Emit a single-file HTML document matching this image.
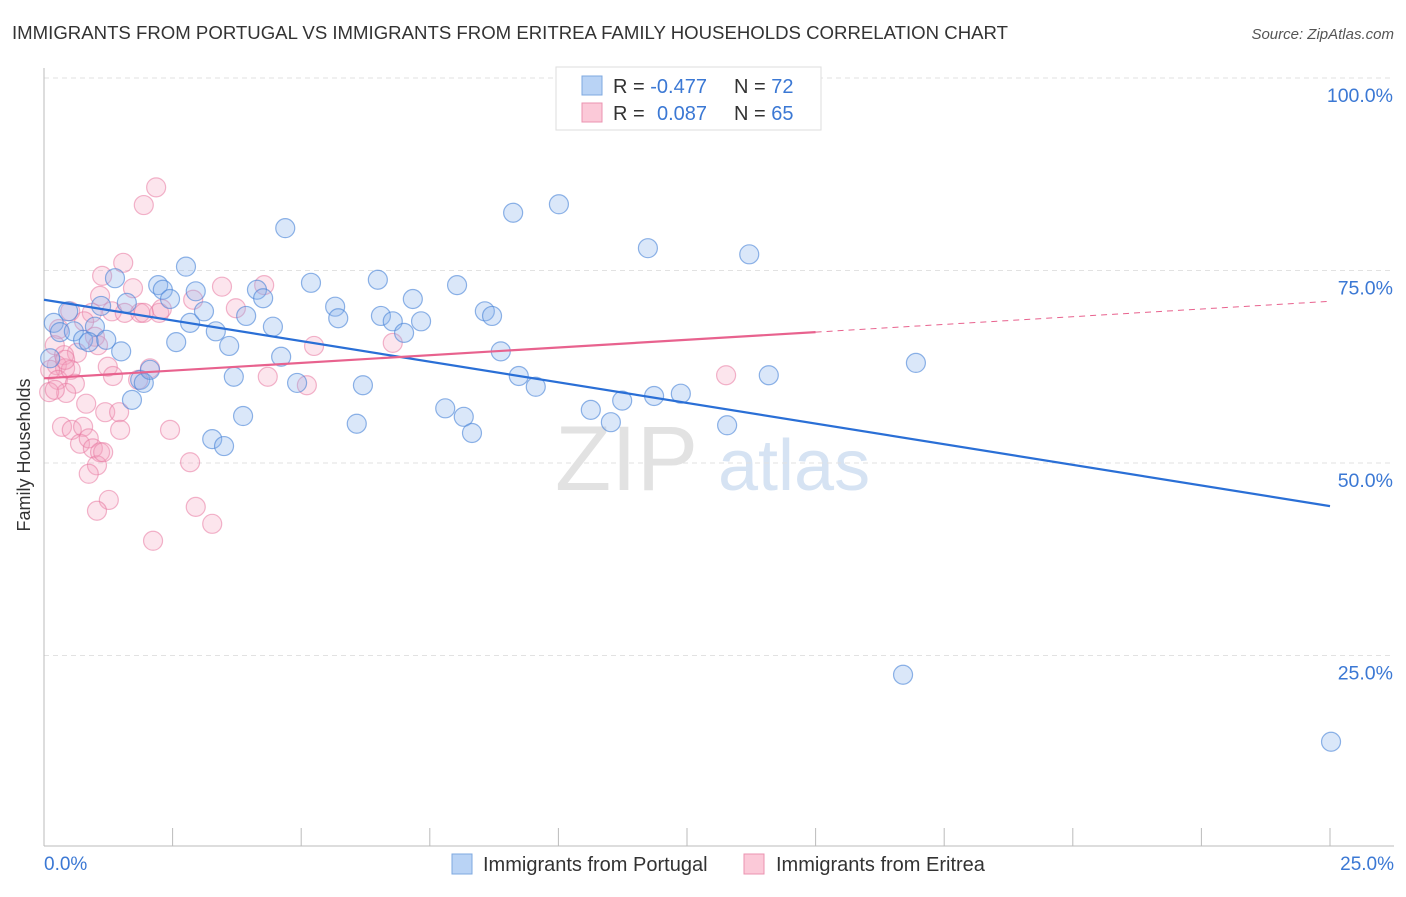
<!DOCTYPE html>
<html><head><meta charset="utf-8"><style>
body{margin:0;background:#fff;font-family:"Liberation Sans",sans-serif;}
svg text{font-family:"Liberation Sans",sans-serif;}
</style></head><body>
<svg id="chart" width="1406" height="892" viewBox="0 0 1406 892">
<text x="12" y="39" font-size="18" fill="#333" textLength="996" lengthAdjust="spacingAndGlyphs">IMMIGRANTS FROM PORTUGAL VS IMMIGRANTS FROM ERITREA FAMILY HOUSEHOLDS CORRELATION CHART</text>
<text x="1394" y="39" font-size="15" fill="#555" font-style="italic" text-anchor="end">Source: ZipAtlas.com</text>
<g>
<text x="555" y="490" font-size="92" fill="#e2e2e2" font-family="Liberation Serif,serif">ZIP</text>
<text x="718" y="490" font-size="72" fill="#d6e3f3">atlas</text>
</g>
<g id="grid"></g>
<g id="axes"></g>
<g id="points"></g>
<g id="lines"></g>
<text x="30" y="455" font-size="18" fill="#333" text-anchor="middle" transform="rotate(-90 30 455)">Family Households</text>
<g>
<rect x="556" y="67" width="265" height="63" fill="#fff" stroke="#ddd"/>
<rect x="582" y="76" width="20" height="19" fill="#b9d3f5" stroke="#7ea8e0"/>
<rect x="582" y="103" width="20" height="19" fill="#fbc9d8" stroke="#eb93b0"/>
<text x="613" y="93" font-size="20" fill="#333">R = <tspan fill="#3b78d4">-0.477</tspan></text>
<text x="734" y="93" font-size="20" fill="#333">N = <tspan fill="#3b78d4">72</tspan></text>
<text x="613" y="120" font-size="20" fill="#333">R = <tspan fill="#3b78d4" x="657">0.087</tspan></text>
<text x="734" y="120" font-size="20" fill="#333">N = <tspan fill="#3b78d4">65</tspan></text>
</g>
<g>
<rect x="452" y="854" width="20" height="20" fill="#b9d3f5" stroke="#7ea8e0"/>
<text x="483" y="871" font-size="20" fill="#333">Immigrants from Portugal</text>
<rect x="744" y="854" width="20" height="20" fill="#fbc9d8" stroke="#eb93b0"/>
<text x="776" y="871" font-size="20" fill="#333">Immigrants from Eritrea</text>
</g>
</svg>
<script>
const yTicks=[25,50,75,100];
const xTickCount=10;
const bluePts=[[54,323],[60,332],[74,331],[68,311],[83,340],[95,327],[89,342],[101,306],[106,340],[115,278],[121,351],[127,303],[132,400],[140,380],[144,383],[150,370],[158,285],[163,290],[170,299],[176,342],[186,267],[190,323],[196,291],[204,311],[212,439],[216,331],[224,446],[229,346],[234,377],[243,416],[246,316],[257,290],[263,298],[273,327],[281,357],[285,228],[297,383],[311,283],[335,307],[338,318],[357,424],[363,385],[378,280],[381,316],[393,321],[404,333],[413,299],[421,321],[445,408],[457,285],[464,417],[472,433],[485,311],[492,316],[501,351],[513,213],[519,376],[536,387],[559,204],[591,410],[611,422],[622,401],[648,248],[654,396],[681,394],[727,425],[749,254],[769,375],[916,363],[903,675],[1331,742],[50,358]];
const pinkPts=[[156,187],[144,205],[123,263],[102,276],[100,296],[133,288],[92,313],[112,311],[125,313],[140,313],[159,313],[162,309],[193,300],[222,287],[236,308],[264,285],[70,311],[59,329],[55,345],[84,321],[95,337],[98,345],[77,353],[64,355],[57,365],[65,368],[50,370],[58,380],[71,370],[108,367],[113,376],[75,384],[66,393],[49,392],[86,404],[62,427],[72,430],[105,412],[119,412],[120,430],[83,427],[80,444],[89,438],[93,448],[100,452],[97,465],[89,474],[109,500],[97,511],[170,430],[190,462],[196,507],[212,524],[153,541],[150,368],[138,380],[268,377],[307,385],[314,346],[393,343],[726,375],[144,313],[55,390],[103,452],[65,360]];
const blueX=bluePts.map(p=>+((p[0]-44)/1286*25).toFixed(2));
const blueY=bluePts.map(p=>+((848-p[1])/7.7).toFixed(1));
const pinkX=pinkPts.map(p=>+((p[0]-44)/1286*25).toFixed(2));
const pinkY=pinkPts.map(p=>+((848-p[1])/7.7).toFixed(1));
const blueTrend=[71.2,44.4];
const pinkTrend=[61.0,71.0];
const pinkSolidEnd=15;
const ns="http://www.w3.org/2000/svg";
const X=v=>44+v/25*1286, Y=v=>848-v*7.7;
function mk(t,a,p){const e=document.createElementNS(ns,t);for(const k in a)e.setAttribute(k,a[k]);p.appendChild(e);return e;}
const grid=document.getElementById('grid'),axes=document.getElementById('axes'),pts=document.getElementById('points'),lines=document.getElementById('lines');
yTicks.forEach(t=>{
 const l=mk('line',{x1:44,x2:1394,y1:Y(t),y2:Y(t),stroke:'#e2e2e2','stroke-dasharray':'5,4'},grid);
 
 
 const tx=mk('text',{x:1393,y:Y(t)+24,'font-size':19.5,fill:'#3b78d4','text-anchor':'end'},axes);
 tx.textContent=t.toFixed(1)+'%';
 
 
});
const ya=mk('line',{x1:44,x2:44,y1:68,y2:846,stroke:'#bbb'},axes);


const xa=mk('line',{x1:44,x2:1394,y1:846,y2:846,stroke:'#bbb'},axes);


for(let i=0;i<=xTickCount;i++){const x=X(i*25/xTickCount);
 const t=mk('line',{x1:x,x2:x,y1:828,y2:846,stroke:'#bbb'},axes);
 
 }
const l0=mk('text',{x:44,y:870,'font-size':19,fill:'#3b78d4'},axes);l0.textContent='0.0%';


const l1=mk('text',{x:1394,y:870,'font-size':19,fill:'#3b78d4','text-anchor':'end'},axes);l1.textContent='25.0%';


function dots(xs,ys,fill,stroke,name){xs.forEach((x,i)=>{
 const c=mk('circle',{cx:X(x),cy:Y(ys[i]),r:9.5,fill:fill,stroke:stroke,'stroke-width':1.2},pts);
 
 });}
dots(pinkX,pinkY,'rgba(245,160,190,0.28)','rgba(232,120,160,0.55)','eritrea-point');
dots(blueX,blueY,'rgba(140,180,235,0.32)','rgba(70,130,215,0.6)','portugal-point');
const bl=mk('line',{x1:X(0),y1:Y(blueTrend[0]),x2:X(25),y2:Y(blueTrend[1]),stroke:'#2a6fd6','stroke-width':2.2},lines);


const py=x=>pinkTrend[0]+(pinkTrend[1]-pinkTrend[0])*x/25;
const pl=mk('line',{x1:X(0),y1:Y(py(0)),x2:X(pinkSolidEnd),y2:Y(py(pinkSolidEnd)),stroke:'#e8628e','stroke-width':2.2},lines);


const pd=mk('line',{x1:X(pinkSolidEnd),y1:Y(py(pinkSolidEnd)),x2:X(25),y2:Y(py(25)),stroke:'#e8628e','stroke-width':1,'stroke-dasharray':'6,5'},lines);


</script>
</body></html>
